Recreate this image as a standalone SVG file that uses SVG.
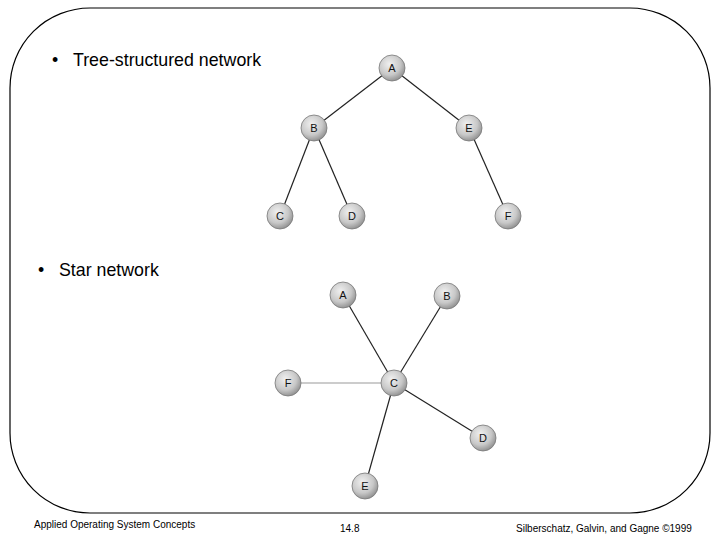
<svg xmlns="http://www.w3.org/2000/svg" width="720" height="540" viewBox="0 0 720 540">
<defs>
<radialGradient id="g" cx="0.4" cy="0.35" r="0.7">
<stop offset="0" stop-color="#f0f0f0"/><stop offset="0.6" stop-color="#c8c8c8"/><stop offset="1" stop-color="#8a8a8a"/>
</radialGradient>
<style>
.n circle{fill:url(#g);stroke:#777;stroke-width:0.8}
.n text{font-family:"Liberation Sans",Arial,sans-serif;font-size:11px;text-anchor:middle;fill:#111}
.e line{stroke:#222;stroke-width:1.2}
.t{font-family:"Liberation Sans",Arial,sans-serif;font-size:17.8px;fill:#000}
.f{font-family:"Liberation Sans",Arial,sans-serif;font-size:10px;fill:#000}
</style>
</defs>
<rect x="10" y="8" width="700" height="505" rx="80" ry="80" fill="#fff" stroke="#000" stroke-width="1.2"/>
<text class="t" x="52" y="66">•</text><text class="t" x="73" y="66">Tree-structured network</text>
<text class="t" x="38" y="276">•</text><text class="t" x="59" y="276">Star network</text>
<g class="e" id="connectors">
<line x1="392" y1="68" x2="314" y2="128"/><line x1="392" y1="68" x2="469" y2="128"/>
<line x1="314" y1="128" x2="280" y2="216"/><line x1="314" y1="128" x2="352" y2="216"/>
<line x1="469" y1="128" x2="508" y2="216"/>
<line x1="394" y1="383" x2="343" y2="295"/><line x1="394" y1="383" x2="447" y2="296"/>
<line x1="394" y1="383" x2="288" y2="383" style="stroke:#999"/><line x1="394" y1="383" x2="483" y2="438"/>
<line x1="394" y1="383" x2="365" y2="486"/>
</g>
<g class="n" id="tA"><circle cx="392" cy="68" r="13"/><text x="392" y="72">A</text></g>
<g class="n" id="tB"><circle cx="314" cy="128" r="13"/><text x="314" y="132">B</text></g>
<g class="n" id="tE"><circle cx="469" cy="128" r="13"/><text x="469" y="132">E</text></g>
<g class="n" id="tC"><circle cx="280" cy="216" r="13"/><text x="280" y="220">C</text></g>
<g class="n" id="tD"><circle cx="352" cy="216" r="13"/><text x="352" y="220">D</text></g>
<g class="n" id="tF"><circle cx="508" cy="216" r="13"/><text x="508" y="220">F</text></g>
<g class="n" id="sA"><circle cx="343" cy="295" r="13"/><text x="343" y="299">A</text></g>
<g class="n" id="sB"><circle cx="447" cy="296" r="13"/><text x="447" y="300">B</text></g>
<g class="n" id="sF"><circle cx="288" cy="383" r="13"/><text x="288" y="387">F</text></g>
<g class="n" id="sC"><circle cx="394" cy="383" r="13"/><text x="394" y="387">C</text></g>
<g class="n" id="sD"><circle cx="483" cy="438" r="13"/><text x="483" y="442">D</text></g>
<g class="n" id="sE"><circle cx="365" cy="486" r="13"/><text x="365" y="490">E</text></g>
<text class="f" x="34" y="528">Applied Operating System Concepts</text>
<text class="f" x="340" y="532">14.8</text>
<text class="f" x="516" y="532">Silberschatz, Galvin, and Gagne ©1999</text>
</svg>
